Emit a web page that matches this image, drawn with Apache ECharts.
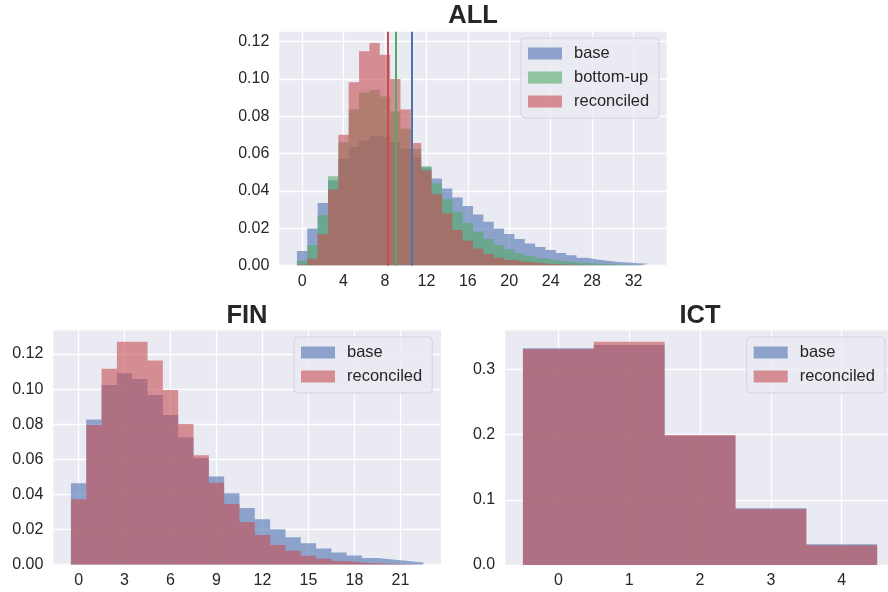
<!DOCTYPE html>
<html><head><meta charset="utf-8">
<script src="https://cdn.jsdelivr.net/npm/echarts@6/dist/echarts.min.js"></script>
<style>html,body{margin:0;padding:0;background:#fff}#c{width:888px;height:592px}</style>
</head><body><div id="c"></div>
<script>
// ---------- data ----------
// ALL panel: bins 0..33 (width 1, centred on integers)
const allFirstBin = 0;
const allBase = [0.0077, 0.0198, 0.0335, 0.0455, 0.057, 0.0635, 0.067, 0.0692, 0.0685, 0.0661, 0.0625, 0.058, 0.0525, 0.0466, 0.0412, 0.0364, 0.0318, 0.0273, 0.0234, 0.0198, 0.0168, 0.0141, 0.0118, 0.0098, 0.0082, 0.0066, 0.0054, 0.0041, 0.0032, 0.0025, 0.0018, 0.0015, 0.0011, 0.0009];
const allBottomUp = [0.0025, 0.0109, 0.0269, 0.0478, 0.066, 0.0836, 0.0927, 0.0941, 0.0906, 0.0826, 0.0733, 0.0626, 0.0531, 0.0439, 0.0355, 0.0287, 0.0229, 0.018, 0.0141, 0.0109, 0.0086, 0.0065, 0.005, 0.0038, 0.0029, 0.0022, 0.0016, 0.0013, 0.0009, 0.0007, 0.0005, 0.0003, 0.0002, 0.0001];
const allReconciled = [0.0003, 0.0036, 0.0168, 0.0407, 0.0701, 0.0982, 0.1148, 0.1193, 0.113, 0.1, 0.0836, 0.0656, 0.051, 0.0382, 0.0278, 0.019, 0.0132, 0.009, 0.0061, 0.0041, 0.0029, 0.002, 0.0015, 0.001, 0.0007, 0.0005, 0.0003, 0.0002, 0.0001, 0.0001, 0, 0, 0, 0];
const allMeanBase = 10.62;
const allMeanBottomUp = 9.08;
const allMeanReconciled = 8.29;
const allXTicks = [0, 4, 8, 12, 16, 20, 24, 28, 32];
const allYTicks = [0, 0.02, 0.04, 0.06, 0.08, 0.10, 0.12];

// FIN panel: bins 0..22
const finFirstBin = 0;
const finBase = [0.0464, 0.0828, 0.1024, 0.1091, 0.1058, 0.0967, 0.0853, 0.0726, 0.0608, 0.0502, 0.0407, 0.0323, 0.0259, 0.0202, 0.0156, 0.0122, 0.0093, 0.007, 0.0053, 0.0038, 0.0029, 0.0021, 0.0013];
const finReconciled = [0.0373, 0.0796, 0.1117, 0.1271, 0.1271, 0.1163, 0.0996, 0.0802, 0.0623, 0.0467, 0.0346, 0.0243, 0.0169, 0.0112, 0.008, 0.0051, 0.0034, 0.0021, 0.0013, 0.0008, 0.0005, 0.0003, 0.0002];
const finXTicks = [0, 3, 6, 9, 12, 15, 18, 21];
const finYTicks = [0, 0.02, 0.04, 0.06, 0.08, 0.10, 0.12];

// ICT panel: bins 0..4
const ictFirstBin = 0;
const ictBase = [0.3321, 0.3372, 0.1978, 0.0869, 0.0317];
const ictReconciled = [0.3306, 0.3424, 0.1993, 0.0853, 0.0301];
const ictXTicks = [0, 1, 2, 3, 4];
const ictYTicks = [0, 0.1, 0.2, 0.3];

const titles = ['ALL', 'FIN', 'ICT'];
const nameBase = 'base', nameBottomUp = 'bottom-up', nameReconciled = 'reconciled';

// ---------- styling ----------
const FONT = "'Liberation Sans', Arial, Helvetica, sans-serif";
const TXT = '#262626';
const RGB = { base: '76,114,176', bu: '85,168,104', rec: '196,78,82' };

function stepData(values, first) {
  const pts = values.map((v, i) => [first + i - 0.5, v]);
  pts.push([first + values.length - 0.5, 0]);
  return pts;
}
function hist(name, values, first, rgb, idx, mean) {
  const s = {
    type: 'line', name, xAxisIndex: idx, yAxisIndex: idx,
    data: stepData(values, first), step: 'end',
    showSymbol: false, symbol: 'none', silent: true, animation: false,
    lineStyle: { width: 0, opacity: 0 },
    itemStyle: { color: `rgba(${rgb},0.6)` },
    areaStyle: { color: `rgba(${rgb},0.6)`, opacity: 1 },
    emphasis: { disabled: true }
  };
  if (mean !== undefined) {
    s.markLine = {
      silent: true, animation: false, symbol: ['none', 'none'],
      label: { show: false },
      lineStyle: { color: `rgb(${rgb})`, width: 2, type: 'solid', opacity: 1 },
      data: [{ xAxis: mean }]
    };
  }
  return s;
}
function xAxis(idx, min, max, ticks) {
  return {
    type: 'value', gridIndex: idx, min, max,
    axisLine: { show: false },
    axisTick: { show: false, customValues: ticks },
    axisLabel: { customValues: ticks, fontSize: 16, fontFamily: FONT, color: TXT, margin: 8 },
    splitLine: { show: true, lineStyle: { color: '#ffffff', width: 1.3 } }
  };
}
function yAxis(idx, max, ticks, dec) {
  return {
    type: 'value', gridIndex: idx, min: 0, max,
    axisLine: { show: false },
    axisTick: { show: false, customValues: ticks },
    axisLabel: { customValues: ticks, fontSize: 16, fontFamily: FONT, color: TXT, margin: 10,
                 formatter: v => v.toFixed(dec) },
    splitLine: { show: true, lineStyle: { color: '#ffffff', width: 1.3 } }
  };
}
function legend(left, top, names, rgbs) {
  return {
    orient: 'vertical', left, top, padding: [7, 10, 8, 7], itemGap: 7,
    itemWidth: 34, itemHeight: 12, icon: 'rect',
    backgroundColor: 'rgba(234,234,242,0.8)', borderColor: '#d4d4dc', borderWidth: 1, borderRadius: 4,
    textStyle: { fontSize: 16.5, fontFamily: FONT, color: TXT, padding: [0, 0, 0, 7] },
    selectedMode: false,
    data: names.map((n, i) => ({ name: n, itemStyle: { color: `rgba(${rgbs[i]},0.6)` } }))
  };
}

const chart = echarts.init(document.getElementById('c'), null, { renderer: 'canvas' });
chart.setOption({
  animation: false,
  backgroundColor: '#ffffff',
  title: [
    { text: titles[0], left: 473, top: 16, textAlign: 'center', textVerticalAlign: 'middle', padding: 0,
      textStyle: { fontSize: 25.5, fontWeight: 'bold', fontFamily: FONT, color: TXT } },
    { text: titles[1], left: 247, top: 316, textAlign: 'center', textVerticalAlign: 'middle', padding: 0,
      textStyle: { fontSize: 25.5, fontWeight: 'bold', fontFamily: FONT, color: TXT } },
    { text: titles[2], left: 700, top: 316, textAlign: 'center', textVerticalAlign: 'middle', padding: 0,
      textStyle: { fontSize: 25.5, fontWeight: 'bold', fontFamily: FONT, color: TXT } }
  ],
  grid: [
    { left: 279.3, top: 31.7, width: 387.4, height: 233.7, show: true, backgroundColor: '#EAEAF2', borderWidth: 0 },
    { left: 53.3, top: 330.4, width: 387.7, height: 234.3, show: true, backgroundColor: '#EAEAF2', borderWidth: 0 },
    { left: 505.2, top: 330.5, width: 382.8, height: 234.5, show: true, backgroundColor: '#EAEAF2', borderWidth: 0 }
  ],
  xAxis: [
    xAxis(0, -2.2, 35.2, allXTicks),
    xAxis(1, -1.65, 23.65, finXTicks),
    xAxis(2, -0.75, 4.653, ictXTicks)
  ],
  yAxis: [
    yAxis(0, 0.1253, allYTicks, 2),
    yAxis(1, 0.1335, finYTicks, 2),
    yAxis(2, 0.3595, ictYTicks, 1)
  ],
  legend: [
    legend(521, 38, [nameBase, nameBottomUp, nameReconciled], [RGB.base, RGB.bu, RGB.rec]),
    legend(294, 337, [nameBase, nameReconciled], [RGB.base, RGB.rec]),
    legend(746.7, 337, [nameBase, nameReconciled], [RGB.base, RGB.rec])
  ],
  series: [
    hist(nameBase, allBase, allFirstBin, RGB.base, 0, allMeanBase),
    hist(nameBottomUp, allBottomUp, allFirstBin, RGB.bu, 0, allMeanBottomUp),
    hist(nameReconciled, allReconciled, allFirstBin, RGB.rec, 0, allMeanReconciled),
    hist(nameBase, finBase, finFirstBin, RGB.base, 1),
    hist(nameReconciled, finReconciled, finFirstBin, RGB.rec, 1),
    hist(nameBase, ictBase, ictFirstBin, RGB.base, 2),
    hist(nameReconciled, ictReconciled, ictFirstBin, RGB.rec, 2)
  ]
});
</script>
</body></html>
